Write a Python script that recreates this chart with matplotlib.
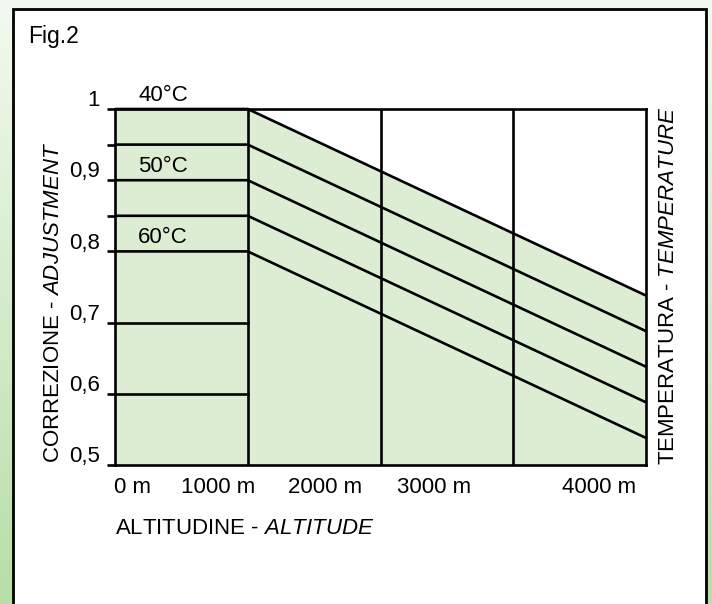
import numpy as np
import matplotlib.pyplot as plt
from matplotlib.patches import Rectangle

plt.rcParams['font.family'] = ['Liberation Sans', 'DejaVu Sans']
plt.rcParams['mathtext.fontset'] = 'custom'
plt.rcParams['mathtext.rm'] = 'Liberation Sans'
plt.rcParams['mathtext.it'] = 'Liberation Sans:italic'

# chart values
grid_alt = [1000, 2000, 3000]          # vertical grid lines (m)
flat_end = 1000                        # no correction up to this altitude
alt_max = 4000
curve_start = [1.0, 0.95, 0.90, 0.85, 0.80]       # correction 0..1000 m
curve_end = [0.738, 0.688, 0.638, 0.588, 0.538]   # correction at 4000 m
flat_levels = [0.7, 0.6]
temp_labels = ['40°C', '50°C', '60°C']
temp_levels = [1.0, 0.9, 0.8]
ytick_vals = [0.5, 0.6, 0.7, 0.8, 0.85, 0.9, 0.95, 1.0]
ytick_text = ['0,5', '0,6', '0,7', '0,8', '', '0,9', '', '1']
xlabel_pos = [130, 775, 1585, 2400, 3645]
xlabel_text = ['0 m', '1000 m', '2000 m', '3000 m', '4000 m']

green = '#ddedd4'
lw = 1.9
W, H = 712, 604

fig = plt.figure(figsize=(W / 100, H / 100), dpi=100)

# decorative background + framed white panel
bg = fig.add_axes([0, 0, 1, 1])
bg.set_axis_off()
grad = np.linspace(0, 1, 200)[:, None]
top_c = np.array([0.95, 0.98, 0.94])
bot_c = np.array([0.72, 0.87, 0.66])
img = top_c + (bot_c - top_c) * grad[..., None]
img = np.repeat(img, 2, axis=1)
bg.imshow(img, extent=[0, 1, 0, 1], aspect='auto', origin='upper')
bg.set_xlim(0, 1)
bg.set_ylim(0, 1)
bg.add_patch(Rectangle((12.7 / W, -0.05), (705.6 - 12.7) / W, 1.05 - 9 / H,
                       facecolor='white', edgecolor='black', lw=2.0))
bg.text(28 / W, 1 - 43 / H, 'Fig.2', fontsize=16.5, va='baseline', ha='left')

ax = fig.add_axes([115 / W, 1 - 465 / H, (646 - 115) / W, (465 - 109) / H])
ax.set_facecolor('none')
ax.set_xlim(0, alt_max)
ax.set_ylim(0.5, 1.0)

ax.fill_between([0, flat_end, alt_max], 0.5,
                [curve_start[0], curve_start[0], curve_end[0]],
                color=green, lw=0, zorder=0)

for y0, y1 in zip(curve_start, curve_end):
    ax.plot([0, flat_end, alt_max], [y0, y0, y1], color='black', lw=lw,
            solid_capstyle='butt', clip_on=False)
for lev in flat_levels:
    ax.plot([0, flat_end], [lev, lev], color='black', lw=lw)
for a in grid_alt:
    ax.plot([a, a], [0.5, 1.0], color='black', lw=lw)

for s in ax.spines.values():
    s.set_linewidth(lw)

ax.set_yticks(ytick_vals)
ax.tick_params(axis='y', length=5.5, width=lw, labelleft=False)
ax.set_xticks([])

for v, t in zip(ytick_vals, ytick_text):
    ax.annotate(t, xy=(0, v), xycoords=('axes fraction', 'data'),
                xytext=(-11, 2), textcoords='offset points',
                ha='right', va='baseline', fontsize=16)

for p, t in zip(xlabel_pos, xlabel_text):
    ax.annotate(t, xy=(p, 0.5), xytext=(0, -20.5), textcoords='offset points',
                ha='center', va='baseline', fontsize=16)

for t, lev in zip(temp_labels, temp_levels):
    ax.annotate(t, xy=(175, lev), xytext=(0, 6), textcoords='offset points',
                ha='left', va='baseline', fontsize=16)

ax.annotate(r'ALTITUDINE - $\it{ALTITUDE}$', xy=(0, 0.5), xytext=(0, -50),
            textcoords='offset points', ha='left', va='baseline', fontsize=16)

fig.text(59 / W, 1 - 463 / H, r'CORREZIONE - $\it{ADJUSTMENT}$', fontsize=16,
         rotation=90, rotation_mode='anchor', ha='left', va='baseline')
fig.text(674 / W, 1 - 465 / H, r'TEMPERATURA - $\it{TEMPERATURE}$', fontsize=16,
         rotation=90, rotation_mode='anchor', ha='left', va='baseline')

fig.savefig('out.png', dpi=100)
